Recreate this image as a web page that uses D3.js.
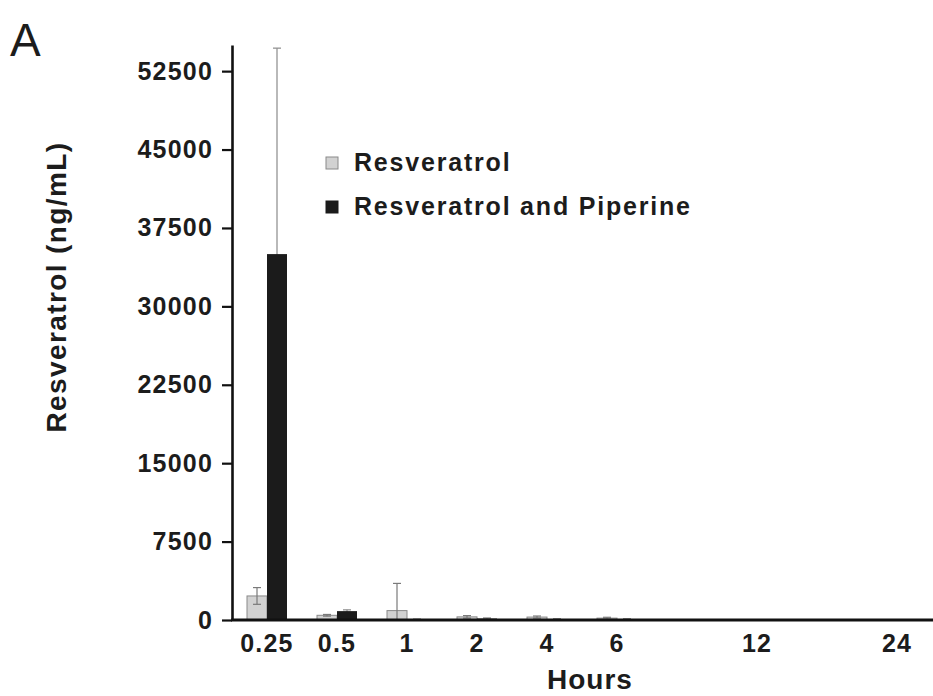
<!DOCTYPE html>
<html>
<head>
<meta charset="utf-8">
<script src="https://cdn.jsdelivr.net/npm/d3@7"></script>
<style>
  body { margin: 0; background: #fff; }
  svg { display: block; }
  text { font-family: "Liberation Sans", Arial, Helvetica, sans-serif; }
</style>
</head>
<body>
<svg id="chart" width="933" height="696"></svg>
<script>
// ---- data ----
const hours = ["0.25", "0.5", "1", "2", "4", "6", "12", "24"];
// slots along the x axis (blank slots give the wider spacing before 12 and 24)
const slots = ["0.25", "0.5", "1", "2", "4", "6", "_a", "12", "_b", "24"];
const resveratrol = [2300, 450, 900, 300, 280, 180, 0, 0];
const resveratrolSD = [800, 80, 2600, 120, 100, 80, 0, 0];
const combo = [35000, 850, 60, 140, 90, 90, 0, 0];
const comboSD = [19700, 120, 40, 60, 40, 40, 0, 0];
const yTicks = [0, 7500, 15000, 22500, 30000, 37500, 45000, 52500];
const yMax = 55000;
const seriesNames = ["Resveratrol", "Resveratrol and Piperine"];

// ---- layout ----
const svg = d3.select("#chart");
const x0 = 232, x1 = 932, yBase = 620, yTop = 45;
const colors = { light: "#d2d2d2", lightStroke: "#8a8a8a", dark: "#1b1b1b" };
const ink = "#1c1c1c";

const x = d3.scaleBand().domain(slots).range([x0, x1]).paddingInner(0).paddingOuter(0);
const y = d3.scaleLinear().domain([0, yMax]).range([yBase, yTop]);
const barW = 20;

const rows = hours.map((h, i) => ({
  h, c: x(h) + x.bandwidth() / 2,
  a: resveratrol[i], aSD: resveratrolSD[i],
  b: combo[i], bSD: comboSD[i]
}));

// error bars
function errBars(acc, sdAcc, off, col) {
  const g = svg.append("g").attr("stroke", col).attr("stroke-width", 1.2);
  rows.filter(d => sdAcc(d) > 0).forEach(d => {
    const cx = d.c + off;
    const top = y(acc(d) + sdAcc(d));
    const bot = y(Math.max(0, acc(d) - sdAcc(d)));
    g.append("line").attr("x1", cx).attr("x2", cx).attr("y1", top).attr("y2", bot);
    g.append("line").attr("x1", cx - 4).attr("x2", cx + 4).attr("y1", top).attr("y2", top);
    g.append("line").attr("x1", cx - 4).attr("x2", cx + 4).attr("y1", bot).attr("y2", bot);
  });
}

// bars - light
svg.append("g").selectAll("rect").data(rows).join("rect")
  .attr("x", d => d.c - barW)
  .attr("y", d => y(d.a))
  .attr("width", barW)
  .attr("height", d => yBase - y(d.a))
  .attr("fill", colors.light)
  .attr("stroke", colors.lightStroke)
  .attr("stroke-width", 1);
errBars(d => d.a, d => d.aSD, -barW / 2, "#7a7a7a");

// dark error bars drawn first so the bar hides the lower half
errBars(d => d.b, d => d.bSD, barW / 2, "#8a8a8a");
svg.append("g").selectAll("rect").data(rows).join("rect")
  .attr("x", d => d.c)
  .attr("y", d => y(d.b))
  .attr("width", barW)
  .attr("height", d => yBase - y(d.b))
  .attr("fill", colors.dark);

// y axis
const yAxis = d3.axisLeft(y).tickValues(yTicks).tickSizeInner(10).tickSizeOuter(0)
  .tickPadding(9).tickFormat(d3.format("d"));
const gy = svg.append("g").attr("transform", `translate(${x0},0)`).call(yAxis);
gy.select(".domain").attr("stroke", "#111").attr("stroke-width", 2.6);
gy.selectAll(".tick line").attr("stroke", "#111").attr("stroke-width", 2.2);
gy.selectAll(".tick text")
  .attr("font-size", 25).attr("font-weight", "bold").attr("fill", ink)
  .attr("letter-spacing", "1.2px")
  .attr("font-family", "'Liberation Sans', Arial, sans-serif");

// x axis
const xAxis = d3.axisBottom(x).tickValues(hours).tickSize(0).tickPadding(14);
const gx = svg.append("g").attr("transform", `translate(0,${yBase})`).call(xAxis);
gx.select(".domain").attr("stroke", "#111").attr("stroke-width", 3)
  .attr("d", `M${x0 - 1},0H${x1 + 1}`);
gx.selectAll(".tick text")
  .attr("font-size", 25).attr("font-weight", "bold").attr("fill", ink)
  .attr("letter-spacing", "1.2px")
  .attr("font-family", "'Liberation Sans', Arial, sans-serif");

// axis titles
svg.append("text")
  .attr("transform", `translate(66,287) rotate(-90)`)
  .attr("text-anchor", "middle")
  .attr("font-size", 28).attr("font-weight", "bold").attr("fill", ink)
  .attr("letter-spacing", "1.4px")
  .text("Resveratrol (ng/mL)");

svg.append("text")
  .attr("x", 590).attr("y", 689)
  .attr("text-anchor", "middle")
  .attr("font-size", 28).attr("font-weight", "bold").attr("fill", ink)
  .attr("letter-spacing", "1px")
  .text("Hours");

// panel letter
svg.append("text")
  .attr("x", 10).attr("y", 56)
  .attr("font-size", 46).attr("fill", ink)
  .text("A");

// legend
const legend = svg.append("g");
const legItems = [
  { name: seriesNames[0], fill: colors.light, stroke: colors.lightStroke, y: 163 },
  { name: seriesNames[1], fill: colors.dark, stroke: colors.dark, y: 207 }
];
legItems.forEach(it => {
  legend.append("rect").attr("x", 326).attr("y", it.y - 6).attr("width", 12).attr("height", 12)
    .attr("fill", it.fill).attr("stroke", it.stroke).attr("stroke-width", 1);
  legend.append("text").attr("x", 354).attr("y", it.y + 8)
    .attr("font-size", 25).attr("font-weight", "bold").attr("fill", ink)
    .attr("letter-spacing", "1.8px")
    .text(it.name);
});
</script>
</body>
</html>
